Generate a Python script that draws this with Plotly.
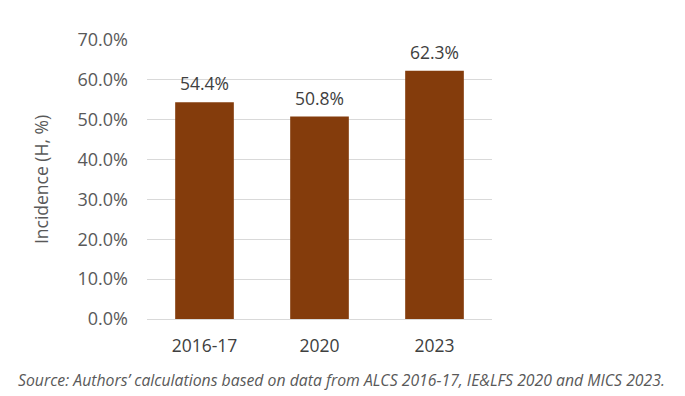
import plotly.graph_objects as go

categories = ["2016-17", "2020", "2023"]
values = [54.4, 50.8, 62.3]
tick_vals = [0, 10, 20, 30, 40, 50, 60, 70]
tick_text = ["0.0%", "10.0%", "20.0%", "30.0%", "40.0%", "50.0%", "60.0%", "70.0%"]
labels = [f"{v:.1f}%" for v in values]
source = "Source: Authors’ calculations based on data from ALCS 2016-17, IE&LFS 2020 and MICS 2023."

fig = go.Figure(go.Bar(
    x=categories, y=values,
    marker=dict(color="#843C0C", line=dict(width=0)),
))

annotations = [
    dict(x=i, y=v, text=t, xref="x", yref="y", yanchor="bottom", yshift=5,
         showarrow=False, font=dict(family="Open Sans", size=17.5, color="#404040"))
    for i, (v, t) in enumerate(zip(values, labels))
]
annotations.append(dict(
    text=f"<i>{source}</i>",
    xref="paper", yref="paper", x=0.5, y=0, xanchor="center", yanchor="middle",
    xshift=22, yshift=-61, showarrow=False,
    font=dict(family="Open Sans", size=15.8, color="#595959"),
))

fig.update_layout(
    width=685, height=396,
    margin=dict(l=147, r=193, t=40, b=77),
    paper_bgcolor="white", plot_bgcolor="white",
    bargap=0.49,
    showlegend=False,
    font=dict(family="Open Sans", color="#404040"),
    xaxis=dict(type="category", range=[-0.5, 2.5], showgrid=False, showline=True,
               linecolor="#d9d9d9", linewidth=1,
               tickfont=dict(size=17.5, color="#404040"), ticks="", ticklabelstandoff=11),
    yaxis=dict(range=[0, 70], tickvals=tick_vals, ticktext=tick_text,
               showgrid=True, gridcolor="#d9d9d9", gridwidth=1, zeroline=False,
               tickfont=dict(size=18, color="#595959"), ticks="", ticklabelstandoff=18,
               title=dict(text="Incidence (H, %)", font=dict(size=17.5, color="#595959"), standoff=24)),
    annotations=annotations,
)

fig.write_html("out.html", config={"displayModeBar": False},
               post_script="document.body.style.margin='0';")
